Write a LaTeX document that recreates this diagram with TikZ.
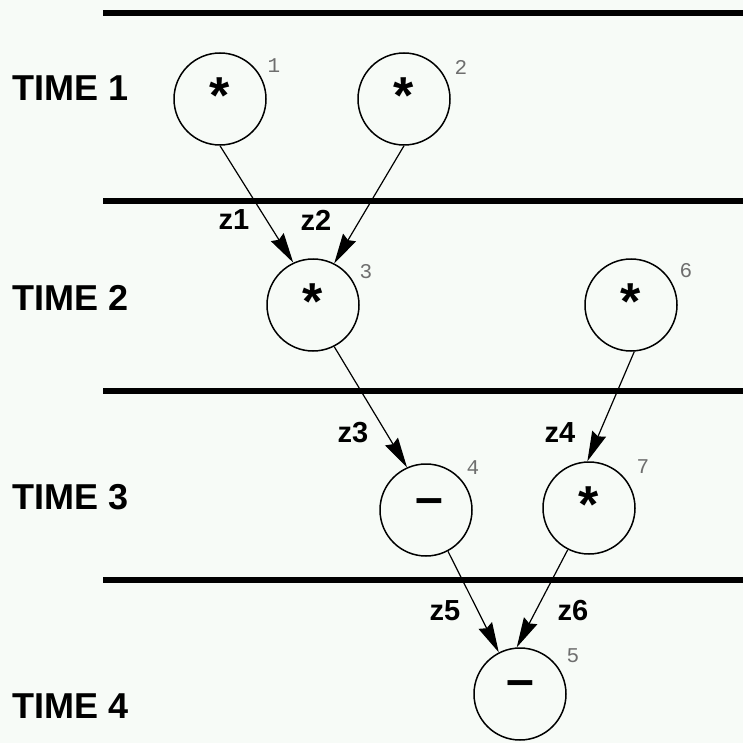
\documentclass[tikz,border=0pt]{standalone}
\usepackage{fontspec}
\setmainfont{Liberation Sans}
\newfontfamily\monofont{Liberation Mono}
\usetikzlibrary{arrows.meta}
\definecolor{bgc}{RGB}{247,251,247}
\definecolor{numc}{RGB}{110,110,110}
\tikzset{
  circ/.style={circle, draw=black, line width=1.5pt, minimum size=92pt, inner sep=0pt},
  sym/.style={font=\fontsize{52}{52}\selectfont\bfseries, inner sep=0pt},
  minussym/.style={font=\fontsize{50}{50}\selectfont\bfseries, inner sep=0pt},
  timelbl/.style={font=\fontsize{36}{36}\selectfont\bfseries, anchor=west, inner sep=0pt},
  zlbl/.style={font=\fontsize{29}{29}\selectfont\bfseries, inner sep=0pt},
  numlbl/.style={font=\fontsize{21}{21}\selectfont\monofont, text=numc, inner sep=0pt},
  sep/.style={line width=6pt, black},
  arr/.style={line width=1.2pt, -{Stealth[length=30pt,width=15pt,inset=3pt]}}
}
\begin{document}
\begin{tikzpicture}[x=1pt,y=-1pt]
\fill[bgc] (0,0) rectangle (743,743);
\useasboundingbox (0,0) rectangle (743,743);
% separators
\coordinate (s1a) at (103,13);  \coordinate (s1b) at (743,13);
\coordinate (s2a) at (103,201); \coordinate (s2b) at (743,201);
\coordinate (s3a) at (103,391); \coordinate (s3b) at (743,391);
\coordinate (s4a) at (103,580); \coordinate (s4b) at (743,580);
\draw[sep] (s1a) -- (s1b);
\draw[sep] (s2a) -- (s2b);
\draw[sep] (s3a) -- (s3b);
\draw[sep] (s4a) -- (s4b);
% time labels
\node[timelbl] (t1) at (12,88.5) {TIME 1};
\node[timelbl] (t2) at (12,298) {TIME 2};
\node[timelbl] (t3) at (12,497) {TIME 3};
\node[timelbl] (t4) at (12,706) {TIME 4};
% operation nodes
\node[circ] (n1) at (220,99) {};
\node[circ] (n2) at (404,99) {};
\node[circ] (n3) at (313,305) {};
\node[circ] (n6) at (631,305) {};
\node[circ] (n4) at (426,510) {};
\node[circ] (n7) at (589,508) {};
\node[circ] (n5) at (520,694) {};
% symbols
\node[sym] (o1) at ([yshift=3pt]n1.center) {*};
\node[sym] (o2) at ([yshift=3pt]n2.center) {*};
\node[sym] (o3) at ([yshift=3pt]n3.center) {*};
\node[sym] (o6) at ([yshift=3pt]n6.center) {*};
\node[sym] (o7) at ([yshift=3pt]n7.center) {*};
\node[minussym] (o4) at ([xshift=3pt,yshift=3pt]n4.center) {–};
\node[minussym] (o5) at ([yshift=5pt]n5.center) {–};
% numbers
\node[numlbl] (k1) at (274,66) {1};
\node[numlbl] (k2) at (461,67) {2};
\node[numlbl] (k3) at (366,272) {3};
\node[numlbl] (k6) at (686,271) {6};
\node[numlbl] (k4) at (473,468) {4};
\node[numlbl] (k7) at (643,467) {7};
\node[numlbl] (k5) at (573,656) {5};
% edges
\draw[arr] (n1.-90) -- (n3.115);
\draw[arr] (n2.-90) -- (n3.63);
\draw[arr] (n3.-63) -- (n4.114);
\draw[arr] (n6.-86) -- (n7.92);
\draw[arr] (n4.-62) -- (n5.117);
\draw[arr] (n7.-117) -- (n5.94);
% edge labels
\node[zlbl] (z1) at (234,220) {z1};
\node[zlbl] (z2) at (316,220) {z2};
\node[zlbl] (z3) at (353,433) {z3};
\node[zlbl] (z4) at (560,433) {z4};
\node[zlbl] (z5) at (445,611) {z5};
\node[zlbl] (z6) at (573,611) {z6};
\end{tikzpicture}
\end{document}
